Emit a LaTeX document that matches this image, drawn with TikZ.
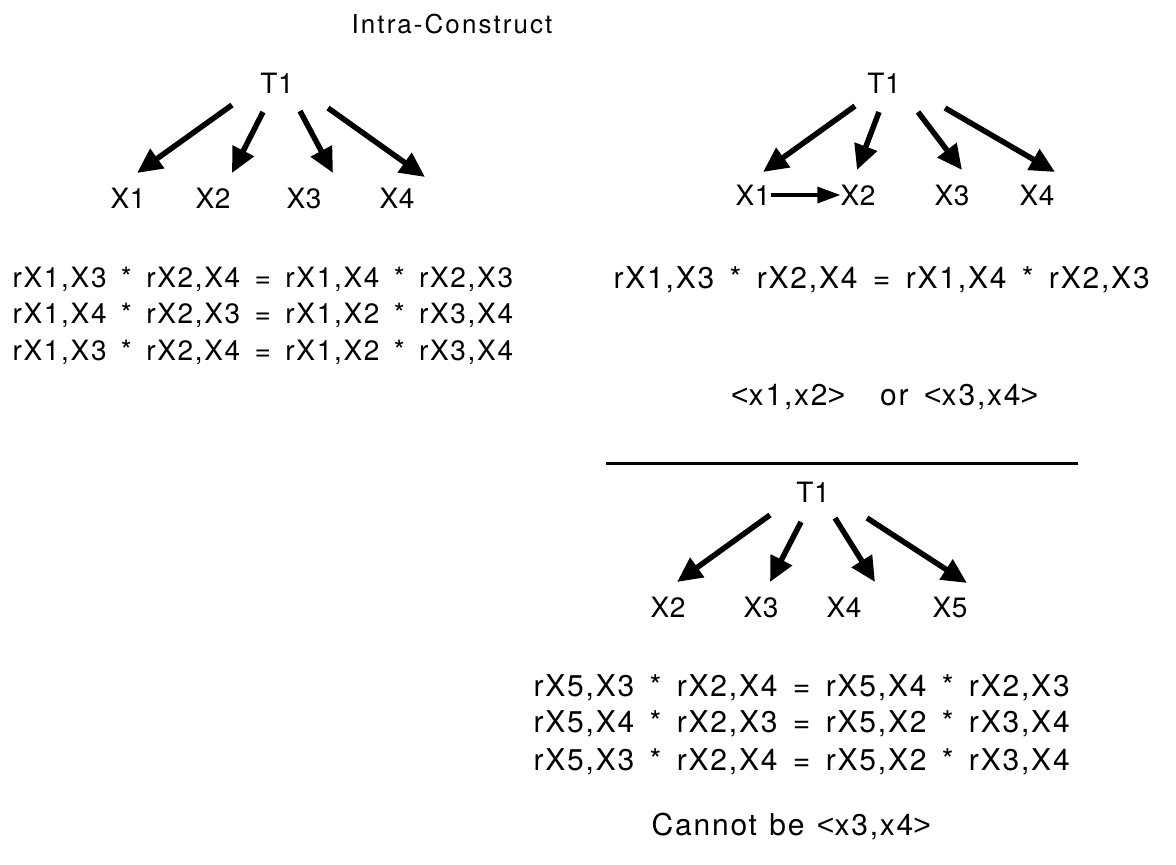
\documentclass[tikz,border=0pt]{standalone}
\usepackage{fontspec}
\setmainfont{TeX Gyre Heros}
\newfontfamily\eqf[LetterSpace=6]{TeX Gyre Heros}
\newfontfamily\lbf[LetterSpace=2]{TeX Gyre Heros}
\newfontfamily\ttlf[LetterSpace=8]{TeX Gyre Heros}
\newfontfamily\angf[LetterSpace=6]{Liberation Sans}
\newcommand{\lt}{{\angf<}}
\newcommand{\gt}{{\angf>}}
\usetikzlibrary{arrows.meta}
\newcommand{\wline}[6]{% style, prefix, x, y, gap, list of words
  \node[inner sep=0pt,anchor=base west] (#2-0) at ([xshift=-#5]#3,#4) {};
  \foreach \w [count=\i, remember=\i as \j (initially 0)] in {#6} {
    \node[#1,anchor=base west] (#2-\i) at ([xshift=#5]#2-\j.base east) {\w};
  }%
}
\begin{document}
\begin{tikzpicture}[x=1pt,y=-1pt,
  lbl/.style={inner sep=0pt,anchor=base,font=\lbf\fontsize{28}{30}\selectfont},
  eqn/.style={inner sep=0pt,font=\eqf\fontsize{28}{30}\selectfont},
  eqnb/.style={inner sep=0pt,font=\eqf\fontsize{30}{32}\selectfont},
  bigarrow/.style={line width=5.5pt,-{Triangle[length=25pt,width=23pt]}},
  smallarrow/.style={line width=3.4pt,-{Triangle[length=23pt,width=16pt]}}]
\useasboundingbox (0,0) rectangle (1176,865);
\fill[white] (0,0) rectangle (1176,865);

\node[lbl,font=\ttlf\fontsize{26}{30}\selectfont] (title) at (452,33) {Intra-Construct};

% left tree
\node[lbl] (lT) at (277,93) {T1};
\node[lbl] (lX1) at (128,208) {X1};
\node[lbl] (lX2) at (213,208) {X2};
\node[lbl] (lX3) at (304,208) {X3};
\node[lbl] (lX4) at (397,208) {X4};
\coordinate (la1s) at (232,105); \coordinate (la1e) at (137,173);
\coordinate (la2s) at (263,112); \coordinate (la2e) at (232,173);
\coordinate (la3s) at (300,111); \coordinate (la3e) at (333,173);
\coordinate (la4s) at (328,108); \coordinate (la4e) at (425,177);
\draw[bigarrow] (la1s) -- (la1e);
\draw[bigarrow] (la2s) -- (la2e);
\draw[bigarrow] (la3s) -- (la3e);
\draw[bigarrow] (la4s) -- (la4e);

\wline{eqn}{le1}{11}{287}{14pt}{{rX1,X3},*,{rX2,X4},=,{rX1,X4},*,{rX2,X3}}
\wline{eqn}{le2}{11}{323}{14pt}{{rX1,X4},*,{rX2,X3},=,{rX1,X2},*,{rX3,X4}}
\wline{eqn}{le3}{11}{360}{14pt}{{rX1,X3},*,{rX2,X4},=,{rX1,X2},*,{rX3,X4}}

% right top tree
\node[lbl] (rT) at (884,93) {T1};
\node[lbl] (rX1) at (753,205) {X1};
\node[lbl] (rX2) at (858,205) {X2};
\node[lbl] (rX3) at (952,205) {X3};
\node[lbl] (rX4) at (1037,205) {X4};
\coordinate (ra1s) at (855,106); \coordinate (ra1e) at (763,172);
\coordinate (ra2s) at (879,112); \coordinate (ra2e) at (857,170);
\coordinate (ra3s) at (918,112); \coordinate (ra3e) at (962,170);
\coordinate (ra4s) at (945,108); \coordinate (ra4e) at (1055,172);
\draw[bigarrow] (ra1s) -- (ra1e);
\draw[bigarrow] (ra2s) -- (ra2e);
\draw[bigarrow] (ra3s) -- (ra3e);
\draw[bigarrow] (ra4s) -- (ra4e);
\draw[smallarrow] (rX1.east|-0,195) -- (rX2.west|-0,195);

\wline{eqnb}{re1}{612}{288}{15pt}{{rX1,X3},*,{rX2,X4},=,{rX1,X4},*,{rX2,X3}}

\node[eqnb,anchor=base west] (or1) at (731,405) {\lt x1,x2\gt};
\node[eqnb,anchor=base west] (or2) at (880,405) {or};
\node[eqnb,anchor=base west] (or3) at (924,405) {\lt x3,x4\gt};

\coordinate (hl1) at (606,463); \coordinate (hl2) at (1078,463);
\draw[line width=3pt] (hl1) -- (hl2);

% bottom tree
\node[lbl] (bT) at (813,502) {T1};
\node[lbl] (bX2) at (668,617) {X2};
\node[lbl] (bX3) at (761,617) {X3};
\node[lbl] (bX4) at (844,617) {X4};
\node[lbl] (bX5) at (950,617) {X5};
\coordinate (ba1s) at (770,515); \coordinate (ba1e) at (677,582);
\coordinate (ba2s) at (801,522); \coordinate (ba2e) at (770,582);
\coordinate (ba3s) at (835,518); \coordinate (ba3e) at (875,582);
\coordinate (ba4s) at (867,518); \coordinate (ba4e) at (967,583);
\draw[bigarrow] (ba1s) -- (ba1e);
\draw[bigarrow] (ba2s) -- (ba2e);
\draw[bigarrow] (ba3s) -- (ba3e);
\draw[bigarrow] (ba4s) -- (ba4e);

\wline{eqnb}{be1}{532}{696}{15pt}{{rX5,X3},*,{rX2,X4},=,{rX5,X4},*,{rX2,X3}}
\wline{eqnb}{be2}{532}{732}{15pt}{{rX5,X4},*,{rX2,X3},=,{rX5,X2},*,{rX3,X4}}
\wline{eqnb}{be3}{532}{770}{15pt}{{rX5,X3},*,{rX2,X4},=,{rX5,X2},*,{rX3,X4}}

\wline{eqnb}{cb}{650}{835}{12pt}{Cannot,be,{\lt x3,x4\gt}}
\end{tikzpicture}
\end{document}
